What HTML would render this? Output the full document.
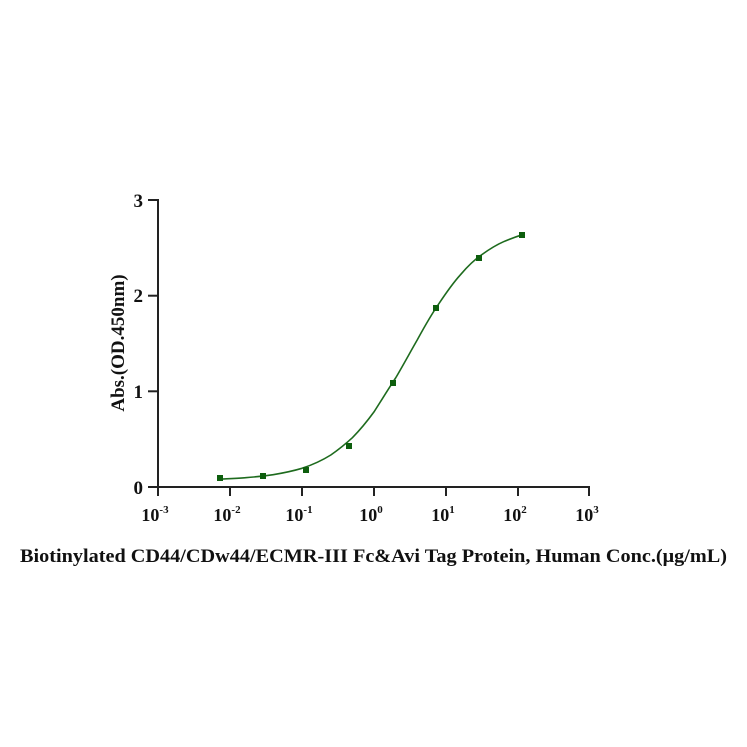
<!DOCTYPE html>
<html><head><meta charset="utf-8"><style>html,body{margin:0;padding:0;background:#fff}svg{display:block}</style></head>
<body>
<svg width="747" height="747" viewBox="0 0 747 747" xmlns="http://www.w3.org/2000/svg" font-family="Liberation Serif, serif" font-weight="bold">
<rect width="747" height="747" fill="#fff"/>
<g stroke="#222" stroke-width="2" fill="none">
<line x1="158" y1="199" x2="158" y2="488"/>
<line x1="157" y1="487" x2="590" y2="487"/>
<line x1="148" y1="200" x2="158" y2="200"/>
<line x1="148" y1="295.7" x2="158" y2="295.7"/>
<line x1="148" y1="391.3" x2="158" y2="391.3"/>
<line x1="148" y1="487" x2="158" y2="487"/>
<line x1="158" y1="487" x2="158" y2="496"/>
<line x1="230" y1="487" x2="230" y2="496"/>
<line x1="302" y1="487" x2="302" y2="496"/>
<line x1="374" y1="487" x2="374" y2="496"/>
<line x1="446" y1="487" x2="446" y2="496"/>
<line x1="518" y1="487" x2="518" y2="496"/>
<line x1="589" y1="487" x2="589" y2="496"/>
</g>
<g font-size="19" text-anchor="end" fill="#111">
<text x="143" y="207">3</text>
<text x="143" y="302">2</text>
<text x="143" y="398">1</text>
<text x="143" y="494">0</text>
</g>
<g font-size="18" text-anchor="middle" fill="#111">
<text x="155" y="521">10<tspan font-size="11" dy="-8">-3</tspan></text>
<text x="227" y="521">10<tspan font-size="11" dy="-8">-2</tspan></text>
<text x="299" y="521">10<tspan font-size="11" dy="-8">-1</tspan></text>
<text x="371" y="521">10<tspan font-size="11" dy="-8">0</tspan></text>
<text x="443" y="521">10<tspan font-size="11" dy="-8">1</tspan></text>
<text x="515" y="521">10<tspan font-size="11" dy="-8">2</tspan></text>
<text x="587" y="521">10<tspan font-size="11" dy="-8">3</tspan></text>
</g>
<text x="124" y="343" font-size="19" text-anchor="middle" transform="rotate(-90 124 343)" fill="#111">Abs.(OD.450nm)</text>
<text x="20" y="562" font-size="19" textLength="707" lengthAdjust="spacingAndGlyphs" fill="#111">Biotinylated CD44/CDw44/ECMR-III Fc&amp;Avi Tag Protein, Human Conc.(μg/mL)</text>
<path d="M220,479.1 C228,478.7 236,478.4 244.4,477.8 C254,477 264,476.2 273.2,474.7 C283,473 293,471 302,468.3 C312,465 322,460.5 330.8,455 C338,450 345,444.5 352.4,437.7 C360,430 367,421.5 374,411.9 C381,401 388,389.5 395.6,378 C403,365.5 410,352.5 417.2,340 C424,327.5 431,315 438.8,303.8 C446,293 453,283 460.4,274.8 C467,267 474,260 482,254.5 C489,249.5 496,245 503.6,241.7 C510,239 516,236.7 522,234.8" fill="none" stroke="#1e6b1e" stroke-width="1.6" stroke-linejoin="round"/>
<g fill="#0d5e0d">
<rect x="217" y="475" width="6" height="6"/>
<rect x="260" y="473" width="6" height="6"/>
<rect x="303" y="467" width="6" height="6"/>
<rect x="346" y="443" width="6" height="6"/>
<rect x="390" y="380" width="6" height="6"/>
<rect x="433" y="305" width="6" height="6"/>
<rect x="476" y="255" width="6" height="6"/>
<rect x="519" y="232" width="6" height="6"/>
</g>
</svg>
</body></html>
